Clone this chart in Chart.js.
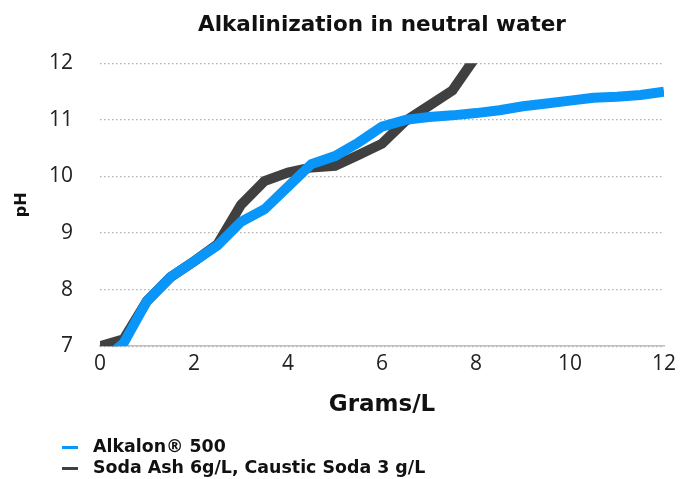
<!DOCTYPE html>
<html>
<head>
<meta charset="utf-8">
<script src="https://cdn.jsdelivr.net/npm/chart.js@4"></script>
<style>
  html, body { margin: 0; padding: 0; background: #fff; }
  #wrap { position: relative; width: 682px; height: 479px; }
  #legend { position: absolute; left: 62px; top: 436px; font-family: "DejaVu Sans", sans-serif; font-weight: bold; font-size: 17.4px; color: #111; line-height: 21px; }
  #legend .sw { display: inline-block; width: 16px; height: 3px; vertical-align: middle; margin-right: 15px; }
</style>
</head>
<body>
<div id="wrap">
  <canvas id="myChart" width="682" height="479"></canvas>
  <div id="legend">
    <div><span class="sw" style="background:#0A96F8"></span>Alkalon® 500</div>
    <div><span class="sw" style="background:#404040"></span>Soda Ash 6g/L, Caustic Soda 3 g/L</div>
  </div>
</div>
<script>
// grams per litre
const grams = [0, 0.5, 1, 1.5, 2, 2.5, 3, 3.5, 4, 4.5, 5, 5.5, 6, 6.5, 7, 7.5, 8, 8.5, 9, 9.5, 10, 10.5, 11, 11.5, 12];
const alkalon = [6.7, 7.05, 7.8, 8.22, 8.5, 8.78, 9.2, 9.42, 9.82, 10.22, 10.36, 10.6, 10.88, 11.0, 11.05, 11.08, 11.12, 11.17, 11.24, 11.29, 11.34, 11.39, 11.41, 11.44, 11.5];
const sodaGrams = [0, 0.5, 1, 1.5, 2, 2.5, 3, 3.5, 4, 4.5, 5, 5.5, 6, 6.5, 7, 7.5, 8, 8.5];
const sodaAsh = [7.0, 7.12, 7.8, 8.22, 8.5, 8.8, 9.5, 9.92, 10.07, 10.16, 10.19, 10.38, 10.58, 10.98, 11.25, 11.52, 12.12, 12.8];
const xTicks = [0, 2, 4, 6, 8, 10, 12];
const yTicks = [7, 8, 9, 10, 11, 12];

const ctx = document.getElementById('myChart').getContext('2d');
new Chart(ctx, {
    type: 'line',
    data: {
        datasets: [
            {
                label: 'Alkalon® 500',
                data: grams.map((g, i) => ({ x: g, y: alkalon[i] })),
                borderColor: '#0A96F8',
                borderWidth: 10,
                pointRadius: 0,
                tension: 0,
                borderJoinStyle: 'miter',
                fill: false
            },
            {
                label: 'Soda Ash 6g/L, Caustic Soda 3 g/L',
                data: sodaGrams.map((g, i) => ({ x: g, y: sodaAsh[i] })),
                borderColor: '#404040',
                borderWidth: 10,
                pointRadius: 0,
                tension: 0,
                borderJoinStyle: 'miter',
                fill: false
            }
        ]
    },
    options: {
        responsive: false,
        animation: false,
        layout: { padding: { left: 0, right: 18, top: 4, bottom: 56 } },
        plugins: {
            legend: { display: false },
            tooltip: { enabled: false },
            title: {
                display: true,
                fullSize: false,
                text: 'Alkalinization in neutral water',
                color: '#111',
                font: { family: 'DejaVu Sans', size: 21.5, weight: 'bold' },
                padding: { top: 9, bottom: 24.5 }
            }
        },
        scales: {
            x: {
                type: 'linear',
                min: 0,
                max: 12,
                afterBuildTicks: axis => { axis.ticks = xTicks.map(v => ({ value: v })); },
                grid: { display: false, drawTicks: false },
                border: { display: true, color: '#bdbdbd', width: 1.5 },
                ticks: { color: '#222', padding: 5, font: { family: 'Open Sans', size: 21 } },
                title: { display: true, text: 'Grams/L', color: '#111', font: { family: 'DejaVu Sans', size: 23, weight: 'bold' }, padding: { top: 10, bottom: 4 } }
            },
            y: {
                min: 7,
                max: 12,
                afterBuildTicks: axis => { axis.ticks = yTicks.map(v => ({ value: v })); },
                grid: { color: '#b0b0b0', lineWidth: 1.2, drawTicks: false },
                border: { display: false, dash: [1.5, 2.5] },
                ticks: { color: '#222', padding: 27, font: { family: 'Open Sans', size: 21 } },
                title: { display: true, text: 'pH', color: '#111', font: { family: 'DejaVu Sans', size: 16, weight: 'bold' }, padding: { top: 12.4, bottom: -9.6 } }
            }
        }
    }
});
</script>
</body>
</html>
